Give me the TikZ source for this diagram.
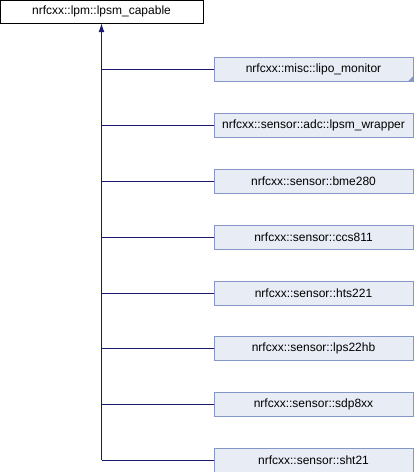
\documentclass[tikz,border=0pt]{standalone}
\usepackage{fontspec}
\setmainfont{Liberation Sans}
\usetikzlibrary{arrows.meta}
\definecolor{edgeblue}{HTML}{191970}
\definecolor{boxfill}{HTML}{E8ECF5}
\definecolor{boxline}{HTML}{8497C8}

\begin{document}
\begin{tikzpicture}[x=1pt, y=-1pt,
    every node/.style={font=\fontsize{12}{14}\selectfont, inner sep=0pt},
    baseclass/.style={draw=black, fill=white, minimum width=203pt, minimum height=23pt},
    derived/.style={draw=boxline, fill=boxfill, minimum width=199pt, minimum height=24pt},
    edge/.style={draw=edgeblue, line width=1pt}]
      \useasboundingbox (0,0) rectangle (416,472);
      \node[baseclass] (cap) at (101.5, 11.5) {nrfcxx::lpm::lpsm\_capable};
      \node[derived] (lipo) at (313.5, 69) {nrfcxx::misc::lipo\_monitor};
      \node[derived] (wrap) at (313.5, 125) {nrfcxx::sensor::adc::lpsm\_wrapper};
      \node[derived] (bme) at (313.5, 181) {nrfcxx::sensor::bme280};
      \node[derived] (ccs) at (313.5, 237) {nrfcxx::sensor::ccs811};
      \node[derived] (hts) at (313.5, 293) {nrfcxx::sensor::hts221};
      \node[derived] (lps) at (313.5, 348) {nrfcxx::sensor::lps22hb};
      \node[derived] (sdp) at (313.5, 404) {nrfcxx::sensor::sdp8xx};
      \node[derived] (sht) at (313.5, 460) {nrfcxx::sensor::sht21};
      % small corner mark on the documented-elsewhere box
      \fill[boxline] (lipo.south east) -- ++(0,-5) -- ++(-5,5) -- cycle;
      \coordinate (trunk) at (cap.south |- sht.west);
      \draw[edge, -{Latex[length=9pt, width=6pt]}] (trunk) -- (cap.south);
      \foreach \child in {lipo, wrap, bme, ccs, hts, lps, sdp, sht}
        \draw[edge] (cap.south |- \child.west) -- (\child.west);
    \end{tikzpicture}
\end{document}
